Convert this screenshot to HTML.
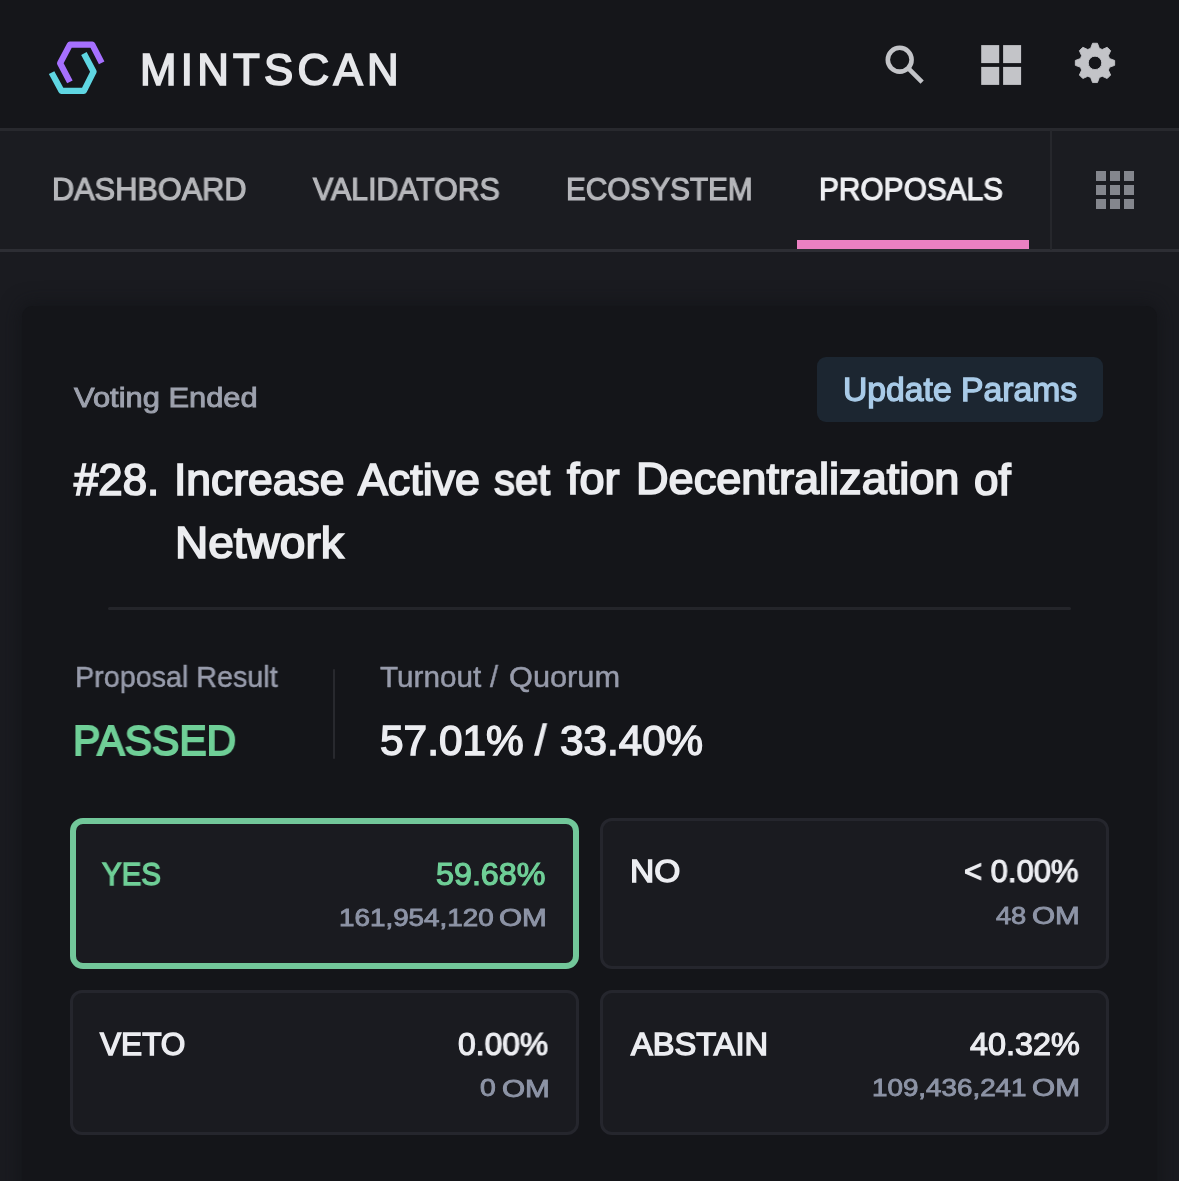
<!DOCTYPE html>
<html lang="en">
<head>
<meta charset="utf-8">
<title>Mintscan - Proposal #28</title>
<style>
html,body{margin:0;padding:0;}
body{width:1179px;height:1181px;overflow:hidden;background:#1a1b20;position:relative;font-family:"Liberation Sans",sans-serif;}
.abs{position:absolute;}
.t{position:absolute;will-change:transform;white-space:nowrap;line-height:1;transform-origin:0 0;margin:0;padding:0;}
#header{left:0;top:0;width:1179px;height:128px;background:#15161a;}
#hline{left:0;top:128px;width:1179px;height:3px;background:#28292e;}
#nav{left:0;top:129px;width:1179px;height:120px;background:#1b1c21;}
#nline{left:0;top:248.8px;width:1179px;height:3.7px;background:#2d2e34;}
#vdiv{left:1049.5px;top:130px;width:2px;height:120px;background:#26272c;}
#pink{left:797px;top:240px;width:232px;height:9px;background:#eb80c2;}
#card{left:21.5px;top:305.5px;width:1135px;height:900px;background:#141519;border-radius:11px;box-shadow:0 0 18px 4px rgba(17,18,22,0.55);}
#btn{left:817px;top:357px;width:286px;height:65px;background:#1c2631;border-radius:9px;}
#div1{left:108.3px;top:607px;width:962.7px;height:3px;background:#24252a;border-radius:2px;}
#div2{left:332.5px;top:669px;width:2px;height:90px;background:#28292e;border-radius:1px;}
.box{position:absolute;box-sizing:border-box;background:#1a1b20;border:3px solid #25262d;border-radius:12px;}
#yes{left:70px;top:818px;width:509px;height:151px;border:6px solid #72c79a;border-radius:13px;}
#no{left:600px;top:818px;width:509px;height:151px;}
#veto{left:70px;top:990px;width:509px;height:145px;}
#abst{left:600px;top:990px;width:509px;height:145px;}
svg{position:absolute;overflow:visible;}
</style>
</head>
<body>
<div id="header" class="abs"></div>
<div id="nav" class="abs"></div>
<div id="hline" class="abs"></div>
<div id="nline" class="abs"></div>
<div id="vdiv" class="abs"></div>
<div id="pink" class="abs"></div>

<!-- logo -->
<svg style="left:0;top:0" width="140" height="128" viewBox="0 0 140 128" fill="none">
  <polyline points="101.7,62.8 92.3,44.6 69.9,44.6 60.1,63.3 69.9,81.9" stroke="#a670ff" stroke-width="6.2" stroke-linejoin="round" />
  <polyline points="51.6,72.6 61.4,90.8 83.9,90.8 93.6,71.7 83.9,53.5" stroke="#5fd6e2" stroke-width="6.2" stroke-linejoin="round" />
</svg>

<!-- header icons -->
<svg style="left:0;top:0" width="1179" height="128" viewBox="0 0 1179 128">
<circle cx="899.7" cy="59.7" r="11.9" fill="none" stroke="#c3c4c8" stroke-width="4.6"/><line x1="908.6" y1="68.6" x2="922.1" y2="82.1" stroke="#c3c4c8" stroke-width="4.6"/>
<rect x="981.2" y="45.1" width="18" height="18" fill="#c3c4c8"/><rect x="981.2" y="66.9" width="18" height="18" fill="#c3c4c8"/><rect x="1003.1" y="45.1" width="18" height="18" fill="#c3c4c8"/><rect x="1003.1" y="66.9" width="18" height="18" fill="#c3c4c8"/>
<path d="M1090.65,48.34 L1092.55,43.25 L1097.45,43.25 L1099.35,48.34 L1102.22,49.53 L1107.16,47.27 L1110.63,50.74 L1108.37,55.68 L1109.56,58.55 L1114.65,60.45 L1114.65,65.35 L1109.56,67.25 L1108.37,70.12 L1110.63,75.06 L1107.16,78.53 L1102.22,76.27 L1099.35,77.46 L1097.45,82.55 L1092.55,82.55 L1090.65,77.46 L1087.78,76.27 L1082.84,78.53 L1079.37,75.06 L1081.63,70.12 L1080.44,67.25 L1075.35,65.35 L1075.35,60.45 L1080.44,58.55 L1081.63,55.68 L1079.37,50.74 L1082.84,47.27 L1087.78,49.53Z M1088.25,62.90 a6.75,6.75 0 1,0 13.5,0 a6.75,6.75 0 1,0 -13.5,0Z" fill="#c3c4c8" fill-rule="evenodd" stroke="#c3c4c8" stroke-width="0.9" stroke-linejoin="round"/>
</svg>

<!-- apps icon -->
<svg style="left:1096px;top:171px" width="38" height="38" viewBox="0 0 38 38" fill="#84868d">
  <rect x="0" y="0" width="10" height="10"/><rect x="14" y="0" width="10" height="10"/><rect x="28" y="0" width="10" height="10"/>
  <rect x="0" y="14" width="10" height="10"/><rect x="14" y="14" width="10" height="10"/><rect x="28" y="14" width="10" height="10"/>
  <rect x="0" y="28" width="10" height="10"/><rect x="14" y="28" width="10" height="10"/><rect x="28" y="28" width="10" height="10"/>
</svg>

<div id="card" class="abs"></div>
<div id="btn" class="abs"></div>
<div id="div1" class="abs"></div>
<div id="div2" class="abs"></div>
<div id="yes" class="box"></div>
<div id="no" class="box"></div>
<div id="veto" class="box"></div>
<div id="abst" class="box"></div>

<div class="t" style="left:139.60px;top:47.54px;font-size:43.81px;color:#e6e7ea;letter-spacing:4.27px;-webkit-text-stroke:1.7px #e6e7ea">MINTSCAN</div>
<div class="t" style="left:52.25px;top:173.73px;font-size:31.20px;color:#b6b7bb;transform:scaleX(0.9845);-webkit-text-stroke:1.2px #b6b7bb">DASHBOARD</div>
<div class="t" style="left:313.49px;top:173.88px;font-size:31.20px;color:#b6b7bb;transform:scaleX(0.9715);-webkit-text-stroke:1.2px #b6b7bb">VALIDATORS</div>
<div class="t" style="left:566.30px;top:173.73px;font-size:31.20px;color:#b6b7bb;transform:scaleX(0.9532);-webkit-text-stroke:1.2px #b6b7bb">ECOSYSTEM</div>
<div class="t" style="left:818.87px;top:173.58px;font-size:31.20px;color:#eeeff2;transform:scaleX(0.9569);-webkit-text-stroke:1.2px #eeeff2">PROPOSALS</div>
<div class="t" style="left:73.85px;top:383.65px;font-size:27.11px;color:#9da1ad;transform:scaleX(1.1390);-webkit-text-stroke:0.9px #9da1ad">Voting Ended</div>
<div class="t" style="left:842.58px;top:374.47px;font-size:32.37px;color:#a9cbe8;transform:scaleX(1.0410);-webkit-text-stroke:1.3px #a9cbe8">Update Params</div>
<div class="t" style="left:74.11px;top:458.95px;font-size:43.47px;color:#ecedf0;transform:scaleX(1.0070);-webkit-text-stroke:1.7px #ecedf0">#28.</div>
<div class="t" style="left:173.65px;top:458.50px;font-size:43.47px;color:#ecedf0;transform:scaleX(1.0225);-webkit-text-stroke:1.7px #ecedf0">Increase</div>
<div class="t" style="left:358.10px;top:458.60px;font-size:43.47px;color:#ecedf0;transform:scaleX(1.0299);-webkit-text-stroke:1.7px #ecedf0">Active</div>
<div class="t" style="left:493.57px;top:458.95px;font-size:43.47px;color:#ecedf0;transform:scaleX(0.9634);-webkit-text-stroke:1.7px #ecedf0">set</div>
<div class="t" style="left:566.93px;top:458.05px;font-size:43.47px;color:#ecedf0;transform:scaleX(1.0365);-webkit-text-stroke:1.7px #ecedf0">for</div>
<div class="t" style="left:635.76px;top:458.32px;font-size:43.47px;color:#ecedf0;transform:scaleX(1.0377);-webkit-text-stroke:1.7px #ecedf0">Decentralization</div>
<div class="t" style="left:973.80px;top:458.95px;font-size:43.47px;color:#ecedf0;transform:scaleX(1.0111);-webkit-text-stroke:1.7px #ecedf0">of</div>
<div class="t" style="left:175.03px;top:522.10px;font-size:43.47px;color:#ecedf0;transform:scaleX(1.0587);-webkit-text-stroke:1.7px #ecedf0">Network</div>
<div class="t" style="left:74.52px;top:661.77px;font-size:29.68px;color:#979bab;transform:scaleX(0.9678);-webkit-text-stroke:0.5px #979bab">Proposal Result</div>
<div class="t" style="left:73.38px;top:719.73px;font-size:42.21px;color:#6fcf97;transform:scaleX(0.9710);-webkit-text-stroke:1.9px #6fcf97">PASSED</div>
<div class="t" style="left:380.40px;top:661.97px;font-size:29.68px;color:#979bab;-webkit-text-stroke:0.5px #979bab">Turnout</div>
<div class="t" style="left:490.24px;top:661.57px;font-size:29.68px;color:#979bab;transform:scaleX(0.9658);-webkit-text-stroke:0.5px #979bab">/</div>
<div class="t" style="left:509.39px;top:661.77px;font-size:29.68px;color:#979bab;transform:scaleX(1.0359);-webkit-text-stroke:0.5px #979bab">Quorum</div>
<div class="t" style="left:379.80px;top:720.25px;font-size:41.92px;color:#ecedf1;transform:scaleX(1.0115);-webkit-text-stroke:1.4px #ecedf1">57.01%</div>
<div class="t" style="left:535.42px;top:720.38px;font-size:41.92px;color:#ecedf1;transform:scaleX(0.9654);-webkit-text-stroke:1.4px #ecedf1">/</div>
<div class="t" style="left:559.56px;top:719.75px;font-size:41.92px;color:#ecedf1;transform:scaleX(1.0072);-webkit-text-stroke:1.4px #ecedf1">33.40%</div>
<div class="t" style="left:102.16px;top:859.26px;font-size:31.46px;color:#6fcf97;transform:scaleX(0.9362);-webkit-text-stroke:1.4px #6fcf97">YES</div>
<div class="t" style="left:436.31px;top:857.86px;font-size:31.99px;color:#6fcf97;transform:scaleX(1.0092);-webkit-text-stroke:1.2px #6fcf97">59.68%</div>
<div class="t" style="left:339.45px;top:906.25px;font-size:24.57px;color:#8d94a6;transform:scaleX(1.1322);-webkit-text-stroke:0.9px #8d94a6">161,954,120</div>
<div class="t" style="left:498.67px;top:906.00px;font-size:24.57px;color:#8d94a6;transform:scaleX(1.2100);-webkit-text-stroke:0.9px #8d94a6">OM</div>
<div class="t" style="left:629.67px;top:855.76px;font-size:31.46px;color:#ecedf1;transform:scaleX(1.0660);-webkit-text-stroke:1.4px #ecedf1">NO</div>
<div class="t" style="left:964.00px;top:854.71px;font-size:31.99px;color:#ecedf1;transform:scaleX(0.9686);-webkit-text-stroke:1.2px #ecedf1">&lt; 0.00%</div>
<div class="t" style="left:995.50px;top:903.65px;font-size:24.57px;color:#8d94a6;transform:scaleX(1.1071);-webkit-text-stroke:0.9px #8d94a6">48</div>
<div class="t" style="left:1031.54px;top:903.70px;font-size:24.57px;color:#8d94a6;transform:scaleX(1.2088);-webkit-text-stroke:0.9px #8d94a6">OM</div>
<div class="t" style="left:99.81px;top:1029.16px;font-size:31.46px;color:#ecedf1;transform:scaleX(1.0044);-webkit-text-stroke:1.4px #ecedf1">VETO</div>
<div class="t" style="left:457.88px;top:1028.31px;font-size:31.99px;color:#ecedf1;transform:scaleX(0.9944);-webkit-text-stroke:1.2px #ecedf1">0.00%</div>
<div class="t" style="left:480.33px;top:1076.30px;font-size:24.57px;color:#8d94a6;transform:scaleX(1.1542);-webkit-text-stroke:0.9px #8d94a6">0</div>
<div class="t" style="left:501.67px;top:1076.70px;font-size:24.57px;color:#8d94a6;transform:scaleX(1.2100);-webkit-text-stroke:0.9px #8d94a6">OM</div>
<div class="t" style="left:630.91px;top:1029.16px;font-size:31.46px;color:#ecedf1;transform:scaleX(1.0370);-webkit-text-stroke:1.4px #ecedf1">ABSTAIN</div>
<div class="t" style="left:969.85px;top:1028.31px;font-size:31.99px;color:#ecedf1;transform:scaleX(1.0128);-webkit-text-stroke:1.2px #ecedf1">40.32%</div>
<div class="t" style="left:872.06px;top:1076.30px;font-size:24.57px;color:#8d94a6;transform:scaleX(1.1311);-webkit-text-stroke:0.9px #8d94a6">109,436,241</div>
<div class="t" style="left:1032.11px;top:1076.30px;font-size:24.57px;color:#8d94a6;transform:scaleX(1.2104);-webkit-text-stroke:0.9px #8d94a6">OM</div>
</body>
</html>
